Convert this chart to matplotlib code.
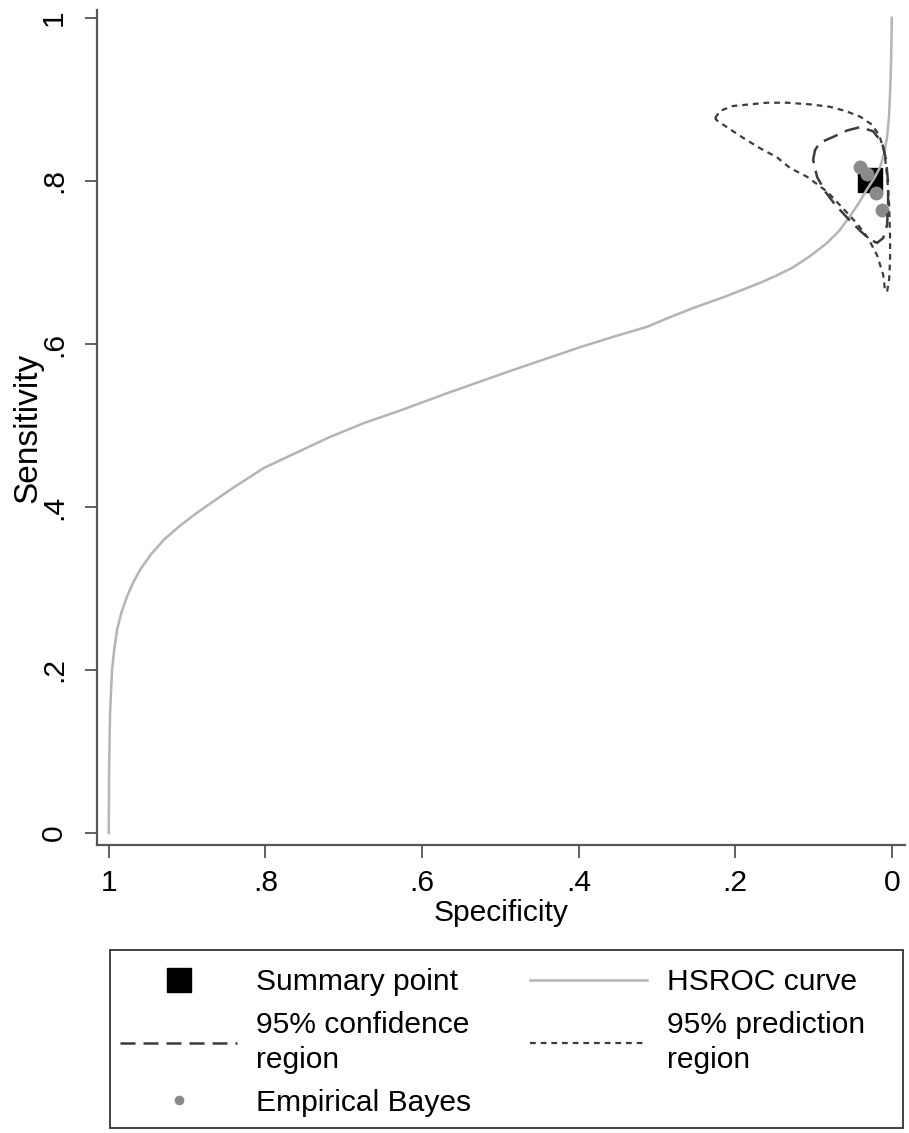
import matplotlib
matplotlib.use("Agg")
import matplotlib.pyplot as plt
from matplotlib.lines import Line2D
from matplotlib.patches import Rectangle

plt.rcParams['font.family'] = ['Liberation Sans', 'DejaVu Sans']

# HSROC curve (specificity, sensitivity)
hsroc_spec = [1.0, 0.9995, 0.9983, 0.9958, 0.993, 0.9894, 0.984, 0.9767, 0.969, 0.960,
              0.946, 0.9294, 0.909, 0.8872, 0.8451, 0.8017, 0.7595, 0.7174, 0.674, 0.6318,
              0.5667, 0.484, 0.3982, 0.355, 0.3127, 0.283, 0.2538, 0.2104, 0.1683, 0.147,
              0.1261, 0.104, 0.0826, 0.067, 0.0533, 0.042, 0.0315, 0.022, 0.0149, 0.0095,
              0.006, 0.0035, 0.0022, 0.0008, 0.0]
hsroc_sens = [0.0, 0.08, 0.147, 0.200, 0.225, 0.249, 0.270, 0.290, 0.307, 0.323,
              0.342, 0.360, 0.377, 0.393, 0.421, 0.448, 0.467, 0.486, 0.503, 0.517,
              0.540, 0.568, 0.596, 0.609, 0.621, 0.633, 0.644, 0.659, 0.675, 0.684,
              0.694, 0.708, 0.724, 0.739, 0.757, 0.773, 0.790, 0.804, 0.817, 0.835,
              0.854, 0.880, 0.908, 0.950, 1.0]

# summary point
summary_spec = [0.028]
summary_sens = [0.801]

# empirical Bayes estimates
eb_spec = [0.040, 0.0316, 0.020, 0.0124]
eb_sens = [0.817, 0.809, 0.785, 0.764]

# 95% confidence region
conf_spec = [0.1005, 0.098, 0.0916, 0.075, 0.057, 0.0405, 0.0239, 0.0124, 0.0073, 0.0047,
             0.0047, 0.006, 0.011, 0.0188, 0.0277, 0.0405, 0.057, 0.0724, 0.085, 0.0954, 0.1005]
conf_sens = [0.826, 0.838, 0.847, 0.854, 0.862, 0.866, 0.861, 0.847, 0.826, 0.798,
             0.771, 0.746, 0.730, 0.724, 0.728, 0.739, 0.755, 0.771, 0.787, 0.805, 0.826]

# 95% prediction region
pred_spec = [0.2257, 0.2193, 0.2027, 0.181, 0.1593, 0.1337, 0.1044, 0.079, 0.0596, 0.0405,
             0.0252, 0.0162, 0.0098, 0.006, 0.0034, 0.0022, 0.0022, 0.0034, 0.006, 0.0086,
             0.011, 0.0188, 0.0303, 0.043, 0.057, 0.0826, 0.108, 0.130, 0.1466, 0.168,
             0.190, 0.209, 0.223, 0.2257]
pred_sens = [0.877, 0.886, 0.892, 0.894, 0.896, 0.896, 0.894, 0.891, 0.886, 0.879,
             0.869, 0.856, 0.838, 0.807, 0.771, 0.732, 0.703, 0.679, 0.664, 0.666,
             0.685, 0.709, 0.730, 0.746, 0.761, 0.787, 0.805, 0.816, 0.829, 0.840,
             0.853, 0.865, 0.874, 0.877]

ticks = [0, 0.2, 0.4, 0.6, 0.8, 1]
tick_labels = ['0', '.2', '.4', '.6', '.8', '1']

fig = plt.figure(figsize=(9.09, 11.33), dpi=100)
ax = fig.add_axes([0.1067, 0.2542, 0.889, 0.7370])

dark = '#3c3c3c'
ax.plot(summary_spec, summary_sens, 's', color='black', markersize=17, zorder=3)
ax.plot(hsroc_spec, hsroc_sens, '-', color='#b4b4b4', lw=1.8, zorder=4)
ax.plot(eb_spec, eb_sens, 'o', color='#8a8a8a', markersize=10, markeredgewidth=0, zorder=5)
ax.plot(conf_spec, conf_sens, color=dark, lw=1.8, linestyle=(0, (6, 3.2)), zorder=6)
ax.plot(pred_spec, pred_sens, color=dark, lw=1.6, linestyle=(0, (2.6, 2.2)), zorder=6)

ax.set_xlim(1.015, -0.017)
ax.set_ylim(-0.0147, 1.0098)
ax.set_xticks(ticks)
ax.set_xticklabels(tick_labels)
ax.set_yticks(ticks)
ax.set_yticklabels(tick_labels, rotation=90, va='center')

for s in ['top', 'right']:
    ax.spines[s].set_visible(False)
for s in ['left', 'bottom']:
    ax.spines[s].set_color('#555555')
    ax.spines[s].set_linewidth(1.6)
ax.tick_params(length=9, width=1.3, color='#555555', labelsize=21.6)
ax.tick_params(axis='x', pad=8)
ax.tick_params(axis='y', pad=12)

ax.set_xlabel('Specificity', fontsize=21.6, labelpad=2)
ax.set_ylabel('Sensitivity', fontsize=24)
ax.yaxis.set_label_coords(-0.066, 0.5)

# legend (proxy handles only carry the styles)
handles = [
    Line2D([], [], marker='s', color='black', linestyle='none', markersize=17),
    Line2D([], [], color=dark, lw=1.8, linestyle=(0, (6, 3.2))),
    Line2D([], [], marker='o', color='#8a8a8a', linestyle='none', markersize=7, markeredgewidth=0),
    Line2D([], [], color='#b4b4b4', lw=1.8),
    Line2D([], [], color=dark, lw=1.6, linestyle=(0, (2.6, 2.2))),
]
labels = ['Summary point', '95% confidence\nregion', 'Empirical Bayes',
          'HSROC curve', '95% prediction\nregion']
leg = fig.legend(handles, labels, ncol=2, loc='upper left',
                 bbox_to_anchor=(120 / 909, 1 - 968 / 1133), frameon=False,
                 fontsize=21.6, handlelength=3.9, handletextpad=0.65,
                 columnspacing=1.95, labelspacing=0.5, borderpad=0, borderaxespad=0)
for t in leg.get_texts():
    t.set_linespacing(1.3)
fig.patches.append(Rectangle((110 / 909, 1 - 1128 / 1133), 793 / 909, 178 / 1133,
                             transform=fig.transFigure, fill=False,
                             edgecolor='#333333', lw=1.3))

fig.savefig('out.png', dpi=100)
